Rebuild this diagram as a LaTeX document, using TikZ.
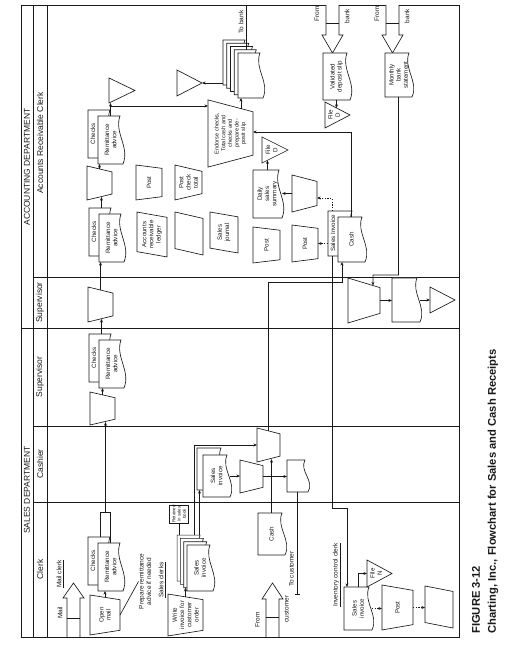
\documentclass[tikz,border=0pt]{standalone}
\usepackage{fontspec}
\setmainfont{Liberation Sans}
\usetikzlibrary{shapes.geometric,arrows.meta,calc}
\definecolor{ink}{gray}{0.1}
\newcommand{\hdrfont}{\fontsize{8.5}{9.5}\selectfont}
\newcommand{\notefont}{\fontsize{6.5}{7.5}\selectfont}
\newcommand{\shapefont}{\fontsize{6.2}{7.2}\selectfont}
\newcommand{\smallshapefont}{\fontsize{5.6}{6.6}\selectfont}
\newcommand{\tinyfont}{\fontsize{4.4}{5.2}\selectfont}
\newcommand{\capfont}{\fontsize{11.2}{13}\selectfont\bfseries}
\tikzset{
	sheet/.style={inner sep=0pt, outer sep=0pt, align=center, font=\shapefont},
	flow/.style={-{Stealth[length=3.6pt,width=3pt]}},
	dashflow/.style={flow, dash pattern=on 1.3pt off 1.4pt},
	tobar/.style={-{Bar[width=5pt]}},
	manop/.style n args={3}{trapezium, draw, fill=white, trapezium stretches=true,
		trapezium left angle=#3, trapezium right angle=#3,
		minimum width=#1, minimum height=#2, inner sep=1pt, outer sep=0pt,
		align=center, font=\shapefont},
	ledger/.style n args={4}{trapezium, draw, fill=white, trapezium stretches=true,
		trapezium left angle=#3, trapezium right angle=#4,
		minimum width=#1, minimum height=#2, inner sep=1pt, outer sep=0pt,
		align=center, font=\shapefont},
	hdr/.style={font=\hdrfont, inner sep=0pt},
	note/.style={font=\notefont, inner sep=0pt, align=center}
}
\newcommand{\docsheet}[6]{
	\draw[fill=white] (#2,#3) -- (#2,#3+#5) -- (#2+#4,#3+#5) -- (#2+#4,#3+3)
		.. controls (#2+0.65*#4,#3+9) and (#2+0.35*#4,#3-7) .. (#2,#3) -- cycle;
	\node[sheet, minimum width=#4, minimum height=#5] (#1) at (#2+0.5*#4,#3+0.5*#5) {#6};
}
\newcommand{\docpair}[7]{
	\docsheet{#1b}{#2+6}{#3+10}{#4}{#5}{}
	\node[sheet] (#1lbl) at (#2+6+0.5*#4,#3+#5+5) {#6};
	\docsheet{#1f}{#2}{#3}{#4}{#5}{#7}
}
\newcommand{\filetri}[6]{
	\node[sheet, minimum width=#4, minimum height=#5] (#1) at (#2,#3) {};
	\draw[fill=white] (#1.north west) -- (#1.north east) -- (#1.south) -- cycle;
	\node[sheet] (#1lbl) at (#2,#3+3.5) {#6};
}
\newcommand{\blockarrow}[6]{
	\draw[fill=white] (#2,#5-6.5) -- (#3,#5-6.5) -- (#3,#5-10.5) -- (#4,#5)
		-- (#3,#5+10.5) -- (#3,#5+6.5) -- (#2,#5+6.5);
	\draw (#6,#5-6.5) -- (#6,#5+6.5);
	\coordinate (#1) at (#4,#5);
}
\begin{document}
\begin{tikzpicture}[x=1pt,y=1pt,line width=0.65pt,color=ink]
\begin{scope}[rotate=90,transform shape]
	\useasboundingbox (0,0) rectangle (653,517);

	\draw (16,58) rectangle (648,496);
	\draw (16,484) -- (648,484);
	\draw (16,470) -- (648,470);
	\foreach \u in {151,227,376} {\draw (\u,58) -- (\u,484);}
	\draw (325,58) -- (325,496);

	\node[hdr] (salesdept) at (163,490) {SALES DEPARTMENT};
	\node[hdr] (acctdept) at (486,490) {ACCOUNTING DEPARTMENT};
	\node[hdr] (clerkhd) at (83.5,477) {Clerk};
	\node[hdr] (cashierhd) at (189,477) {Cashier};
	\node[hdr] (supshd) at (276,477) {Supervisor};
	\node[hdr] (supahd) at (350.5,477) {Supervisor};
	\node[hdr] (arhd) at (510,477) {Accounts Receivable Clerk};

	% clerk
	\node[note] (mailtxt) at (40,457) {Mail};
	\node[note] (mailclerk) at (79,457) {\underline{Mail clerk}};
	\blockarrow{mailin}{16}{55}{70}{443.5}{35}
	\node[manop={40}{30}{101}] (openmail) at (38,412) {Open\\mail};
	\docpair{clk}{62}{394}{48}{25}{Checks}{Remittance\\advice}
	\node[note] (prepnote) at (71.5,372) {Prepare remittance\\advice if needed};
	\node[note] (salesclerks) at (73,355) {\underline{Sales clerks}};
	\node[manop={42}{35}{101}] (writeinv) at (38,331.5) {Write\\invoice for\\customer\\order};
	\foreach \k in {3,2,1} {\docsheet{inv\k}{62+3.3*\k}{304+3.3*\k}{46}{26}{}}
	\docsheet{inv0}{62}{304}{46}{26}{Sales\\invoice}
	\node[draw, sheet, font=\tinyfont, minimum width=18, minimum height=19] (retbox) at (139,338) {Retained\\in sales\\book};
	\node[note] (fromtxt) at (33,259.5) {From};
	\node[note] (custtxt) at (44,230.5) {customer};
	\blockarrow{custin}{16}{54}{70}{244.5}{36}
	\docsheet{cashc}{98}{232}{42}{27}{Cash}
	\node[note] (invclerk) at (78,180) {\underline{Inventory control clerk}};
	\docsheet{invsi}{23}{145}{43}{28}{Sales\\invoice}
	\filetri{fileN}{79.5}{137.5}{27}{25}{File\\N}
	\node[manop={45}{31}{109.5}] (invpost) at (45.5,119.5) {Post};
	\node[ledger={42}{28}{80}{100}] (invledger) at (46,78) {};

	% cashier
	\docsheet{csb}{163}{293}{42}{27}{}
	\docsheet{csi}{156}{287}{42}{27}{Sales\\invoice}
	\node[manop={33}{23}{104.6}] (smallcash) at (176.5,265.5) {};
	\node[manop={34}{23}{104.6}] (bigcash) at (208,248.5) {};
	\docsheet{cashr}{161}{209}{32}{21}{}
	\node[note] (tocusttxt) at (84,225.5) {To customer};
	\coordinate (tocust) at (58,219.5);

	% supervisors
	\node[manop={33}{25}{105}] (supsT) at (244.5,414.5) {};
	\docpair{sups}{265}{393}{48}{25}{Checks}{Remittance\\advice}
	\node[manop={35}{25}{105}] (supaT) at (348.5,416.5) {};
	\node[manop={45}{32}{110.5}] (bankrec) at (352.5,153) {};
	\docsheet{supdoc}{331}{97}{44}{28}{}
	\filetri{tri3}{353}{74.5}{26}{25}{}

	% accounts receivable
	\docpair{ar2}{391}{393}{48}{25}{Checks}{Remittance\\advice}
	\node[manop={34}{25}{105}] (arT) at (470,417.5) {};
	\docpair{ar1}{489}{394}{48}{25}{Checks}{Remittance\\advice}
	\filetri{tri1}{562.5}{395}{25}{26}{}
	\node[manop={35}{26}{105}] (post1) at (470.5,368) {Post};
	\node[manop={35}{27}{104}] (postchk) at (470.5,328.5) {Post\\check\\total};
	\node[ledger={45}{30}{78}{102}] (arledger) at (418.5,365) {Accounts\\receivable\\ledger};
	\node[ledger={43}{28}{78}{102}] (blankledger) at (419.5,328) {};
	\node[ledger={41}{28}{78}{102}] (salesjnl) at (420.5,293) {Sales\\journal};
	\node[manop={67}{45}{109.5}, font=\smallshapefont] (endorse) at (519.5,286.5) {Endorse checks,\\Total cash and\\checks and\\prepare de-\\posit slip};
	\foreach \k in {4,...,0} {\docsheet{bank\k}{555+3.25*\k}{254+3.75*\k}{45}{25}{}}
	\filetri{tri2}{570}{327.5}{26}{25}{}
	\node[note] (tobanktxt) at (631,276) {To bank};
	\coordinate (tobank) at (648,270);
	\docsheet{daily}{435}{235}{48}{29}{Daily\\sales\\summary}
	\filetri{fileDa}{503}{242}{26}{26}{File\\D}
	\node[manop={37}{25}{105}] (dailytrap) at (459.5,212.5) {};
	\node[manop={36}{27}{104}] (post2) at (408,250.5) {Post};
	\node[manop={37}{26}{104}] (post3) at (409.5,212) {Post};
	\docpair{cash}{391}{152}{45}{27}{Sales Invoice}{Cash}
	\blockarrow{bankin1}{648}{618}{600}{184.5}{630}
	\node[note] (from1) at (639,200) {From};
	\node[note] (bank1txt) at (637,170) {bank};
	\docsheet{valslip}{553}{167}{47}{27}{Validated\\deposit slip}
	\filetri{fileDb}{538}{179.5}{26}{25}{File\\D}
	\blockarrow{bankin2}{648}{618}{600}{124.5}{630}
	\node[note] (from2) at (639,140) {From};
	\node[note] (bank2txt) at (637,110) {bank};
	\docsheet{monthly}{556}{105}{44}{27}{Monthly\\bank\\statement}

	% flows
	\draw (openmail.south) -- (prepnote.north);
	\draw[flow] (openmail.east) -- (openmail.east -| clkf.west);
	\coordinate (clkjoin) at (141,411.5);
	\draw (clkf.east) -- (clkf.east -| clkjoin) -- (clkb.east -| clkjoin) -- (clkb.east);
	\draw[flow] (clkjoin) -- (clkjoin -| supsT.west);
	\draw[flow] (supsT.east) -- (supsT.east -| supsf.west);
	\draw[flow] (supsb.east) -- (supsb.east -| supaT.west);
	\draw[flow] (supaT.east) -- (supaT.east -| ar2f.west);
	\draw[flow] (ar2b.east) -- (ar2b.east -| arT.west);
	\draw[flow] (arT.east) -- (arT.east -| ar1f.west);
	\coordinate (ar1j) at (547,406.5);
	\draw (ar1f.east) -- (ar1j);
	\draw[flow] (ar1j) -- (ar1j -| tri1.west);
	\draw[flow] (ar1j) -- (ar1j |- endorse.north);
	\coordinate (endout) at ($(endorse.top right corner)!0.733!(endorse.bottom right corner)$);
	\draw[flow] (endout) -- (endout -| bank0.west);
	\draw[flow] (tri2.south |- bank4.north) -- (tri2.south);
	\draw[tobar] (bank1.east) -- (bank1.east -| tobank);

	\coordinate (cashup) at (371,175);
	\draw[flow] (bigcash.east) -- (bigcash.east -| cashup) -- (cashup) -- (cashup -| cashf.west);
	\coordinate (endbend) at (521,165.5);
	\draw[flow] (cashf.east) -- (cashf.east -| endbend) -- (endbend |- endorse.south);
	\coordinate (dsbend) at (455,185);
	\draw[dashflow] (cashb.east |- dsbend) -- (dsbend) -- (dsbend |- dailytrap.south);
	\draw[dashflow] (post3.south |- cashb.north) -- (post3.south);
	\coordinate (invbend1) at (145,185);
	\coordinate (invbend2) at (145,170);
	\draw[flow] (cashb.west |- invbend1) -- (invbend1) -- (invbend2) -- (invbend2 -| invsi.east);
	\draw[flow] (dailytrap.north) -- (dailytrap.north |- daily.south);
	\draw[flow] (daily.east) -- ($(fileDa.north west)!0.21!(fileDa.south)$);
	\draw[flow] (valslip.west) -- ($(fileDb.north east)!0.46!(fileDb.south)$);

	\coordinate (monbend) at (378,144);
	\draw[flow] (monthly.west) -- (monthly.west -| monbend) -- (monbend)
		-- ($(bankrec.top right corner)!0.78!(bankrec.bottom right corner)$);
	\draw[flow] (bankrec.south) -- (bankrec.south |- supdoc.north);
	\draw[flow] (supdoc.south) -- (supdoc.south |- tri3.north);

	\draw[flow] (cashc.east) -- (cashc.east -| bigcash.west);
	\draw[flow] (csi.south) -- (csi.south |- smallcash.north);
	\draw[flow] (smallcash.south) -- (smallcash.south |- cashr.north);
	\draw[tobar] (cashr.west) -- (cashr.west -| tocust);
	\coordinate (invA) at (208,323);
	\coordinate (invB) at (150,317.5);
	\draw[flow] (inv3.east |- invA) -- (invA) -- (invA |- bigcash.north);
	\draw[flow] (inv3.east |- invB) -- (csb.west |- invB);
	\draw (inv3.east |- retbox.west) -- (retbox.west);
	\draw[flow] (writeinv.east) -- (writeinv.east -| inv1.west);

	\coordinate (fnbend) at (79.5,159);
	\draw[flow] (invsi.east) -- (invsi.east -| fnbend) -- (fnbend |- fileN.north);
	\draw[dashflow] (invsi.south) -- (invsi.south |- invpost.north);
	\draw[dashflow] (invpost.south) -- (invpost.south |- invledger.north);

	\node[font=\capfont, anchor=west, inner sep=0pt] (fignum) at (19,41) {FIGURE 3-12};
	\node[font=\capfont, anchor=west, inner sep=0pt] (figtitle) at (19,24) {Charting, Inc., Flowchart for Sales and Cash Receipts};
\end{scope}
\end{tikzpicture}
\end{document}
